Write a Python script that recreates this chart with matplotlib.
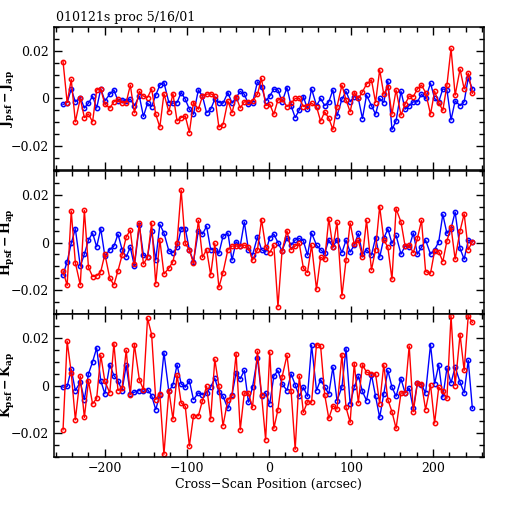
import matplotlib
matplotlib.use('Agg')
import matplotlib.pyplot as plt
from matplotlib.ticker import MultipleLocator, FixedFormatter, FixedLocator

# cross-scan positions (arcsec), shared by every series
scan_x = [-251, -246, -241, -236, -230, -225, -220, -215, -210, -205,
          -200, -194, -189, -184, -179, -174, -169, -164, -158, -153,
          -148, -143, -138, -133, -128, -122, -117, -112, -107, -102,
          -97, -92, -86, -81, -76, -71, -66, -61, -56, -50,
          -45, -40, -35, -30, -25, -20, -14, -9, -4, 1,
          6, 11, 16, 22, 27, 32, 37, 42, 47, 52,
          58, 63, 68, 73, 78, 83, 89, 94, 99, 104,
          109, 114, 119, 125, 130, 135, 140, 145, 150, 155,
          161, 166, 171, 176, 181, 186, 191, 197, 202, 207,
          212, 217, 222, 227, 233, 238, 243, 248]

j_red = [0.0155, -0.0017, 0.008, -0.0098, 0.0, -0.008, -0.0065, -0.0098, 0.0036, 0.004,
         -0.0024, -0.004, -0.0014, -0.0003, -0.0017, -0.0017, 0.0056, -0.006, 0.003, 0.001,
         0.0004, 0.004, -0.0066, -0.012, 0.002, -0.0056, 0.002, -0.0094, -0.008, -0.0073,
         -0.0143, -0.0017, -0.0045, 0.001, 0.0018, 0.002, 0.001, -0.012, -0.011, -0.001,
         -0.006, 0.0008, -0.004, -0.0014, -0.0014,
         -0.001, 0.0018, 0.0084, -0.003, -0.0024, -0.0066, -0.0006, -0.0003, -0.0034, -0.002,
         0.0, 0.0001, -0.0034, -0.003, -0.002, -0.0034, -0.0095, -0.0056, -0.0083, -0.013,
         -0.0034, 0.0056, -0.0006, -0.0056, 0.0025, 0.0, 0.0028, 0.006, 0.0078, -0.0017,
         0.012, 0.0018, 0.005, -0.0066, 0.0036, -0.007, -0.0024, 0.001, 0.0008, 0.004,
         0.0056, 0.0025, -0.0066, 0.003, -0.0017, -0.005, 0.0056, 0.021, 0.0014, 0.0123,
         0.004, 0.0106, 0.0022]
j_blue = [-0.0025, -0.0017, 0.004, -0.0014, 0.0004, -0.004, -0.002, 0.001, -0.004, 0.004,
          -0.001, 0.0018, 0.0036, -0.001, -0.0006, -0.001, -0.0003, -0.003, 0.001, -0.0075,
          -0.002, -0.0034, 0.0014, 0.0056, 0.0067, -0.0017, -0.002, -0.0017, 0.0025, -0.0003,
          -0.0045, -0.0066, 0.0036, 0.001, -0.006, -0.0045, -0.0003, -0.0017, -0.002, 0.0025,
          -0.002, 0.0004, 0.003, 0.0018, -0.0024,
          -0.002, 0.007, 0.005, -0.001, 0.001, 0.004, 0.0036, -0.0014, 0.0046, -0.003,
          -0.008, -0.0048, 0.0008, -0.0045, 0.004, -0.003, 0.0, -0.003, -0.0014, 0.0036,
          -0.0073, -0.0003, 0.003, -0.0014, 0.0008, 0.0, -0.0084, 0.0014, -0.003, -0.0066,
          0.0, -0.0017, 0.0074, -0.013, -0.0094, 0.003, -0.0045, -0.003, -0.0014, -0.0014,
          0.0018, 0.0, 0.0064, 0.0, -0.0014, 0.004, 0.0036, -0.009, -0.001, -0.003,
          -0.0014, 0.0087, 0.004]

h_red = [-0.012, -0.018, 0.0132, -0.0085, -0.0178, 0.0135, -0.0104, -0.0143, -0.014, -0.0122,
         -0.0049, -0.015, -0.0178, -0.0118, -0.0053, 0.0024, 0.0051, -0.009, 0.0082, -0.009,
         -0.0062, 0.0082, -0.0174, 0.0012, -0.0132, -0.0108, -0.008, 0.0, 0.022, -0.0004,
         -0.003, -0.0088, 0.0093, -0.0062, -0.003, -0.0136, -0.0004, -0.0188, -0.0126, -0.003,
         -0.0015, -0.0015, -0.0015, -0.0011, -0.002,
         -0.0074, -0.003, 0.0096, -0.0018, -0.0043, -0.0011, -0.027, -0.0035, 0.0049, -0.003,
         -0.0015, -0.0004, -0.0108, -0.0126, -0.0011, -0.0196, -0.0062, -0.007, 0.01, -0.002,
         0.0085, -0.0224, -0.0074, 0.0082, -0.0007, 0.001, -0.006, 0.0093, -0.0115, -0.003,
         0.0151, 0.0012, -0.002, -0.0154, 0.0142, 0.0086, -0.0015, -0.0011, -0.0043, 0.0017,
         0.0093, -0.0122, -0.0129, -0.0035, -0.0038, -0.008, 0.0007, 0.0065, -0.007, 0.0049,
         0.012, -0.003, 0.0003]
h_blue = [-0.0136, -0.008, -0.0004, 0.0058, -0.0099, -0.0049, 0.001, 0.004, -0.0018, 0.0058,
          -0.0057, -0.003, -0.0015, 0.0035, -0.003, -0.006, -0.002, -0.0099, 0.0072, -0.0053,
          -0.006, 0.0049, -0.0074, 0.0076, 0.004, -0.0035, -0.0043, -0.002, 0.0058, 0.0058,
          -0.003, -0.008, 0.0049, 0.0035, 0.0068, -0.003, -0.003, -0.0046, 0.0026, 0.004,
          -0.0074, 0.0003, -0.0015, 0.0086, -0.003,
          -0.0053, 0.0024, -0.003, -0.004, 0.002, 0.0035, 0.0, -0.0035, 0.002, -0.0011,
          0.001, 0.0017, 0.0007, -0.0053, 0.004, -0.0011, -0.003, -0.0046, 0.0012, -0.002,
          0.0012, -0.0043, 0.001, -0.004, -0.0011, 0.0038, -0.0049, -0.003, -0.0053, 0.002,
          -0.0062, 0.0017, 0.0058, -0.0004, 0.003, -0.0049, -0.0015, -0.002, 0.004, -0.0049,
          -0.002, 0.001, -0.0049, -0.003, 0.0003, 0.0118, 0.0038, 0.0058, 0.0128, -0.0025,
          -0.007, 0.001, 0.0003]

k_red = [-0.0186, 0.0186, 0.0054, -0.0144, 0.004, -0.0134, 0.002, -0.0077, -0.0054, 0.0127,
         0.0017, -0.0031, 0.0176, -0.0021, -0.0011, 0.0148, -0.0039, 0.0172, 0.0025, -0.0017,
         0.0282, 0.0214, -0.0059, -0.0035, -0.0289, -0.0021, -0.0141, 0.0045, -0.0073, -0.0087,
         -0.0254, -0.0127, -0.0127, -0.0063, -0.0003, -0.0141, 0.011, -0.0003, -0.0169, -0.0059,
         -0.0042, 0.0134, -0.0186, -0.0031, -0.0031,
         -0.0092, 0.0144, -0.0039, -0.0228, 0.0141, -0.018, -0.0101, 0.0035, 0.0127, -0.0021,
         -0.0268, 0.004, -0.0113, -0.0068, -0.007, 0.0172, 0.0166, -0.0039, -0.0138, -0.0085,
         -0.0099, 0.013, -0.0092, -0.0155, 0.0092, -0.0073, 0.0087, 0.0056, 0.0049, 0.0049,
         -0.0077, 0.0087, -0.0059, -0.011, -0.018, -0.0031, -0.0031, 0.0166, -0.011, 0.0011,
         0.0007, -0.0101, 0.0003, -0.0158, -0.0007, -0.0025, -0.0054, 0.0293, 0.0, 0.0214,
         0.0063, 0.0293, 0.0265]
k_blue = [-0.0007, -0.0004, 0.0068, -0.0021, 0.0014, -0.0059, 0.0049, 0.0099, 0.0158, 0.002,
          -0.0035, 0.0087, 0.0042, 0.002, -0.0021, 0.0085, -0.0035, -0.0028, -0.0021, -0.0025,
          -0.0017, -0.0042, -0.0101, -0.0039, 0.0138, -0.0025, 0.0003, 0.0087, 0.0007, -0.0007,
          0.002, -0.0059, -0.0031, -0.0039, -0.0031, -0.0007, 0.0031, -0.0028, -0.0045, -0.0096,
          -0.0039, 0.0054, 0.0028, 0.0063, -0.007,
          -0.0007, 0.0115, -0.0042, -0.0031, -0.0077, 0.004, 0.0063, 0.0007, -0.0021, 0.0049,
          0.0003, -0.0045, -0.0007, -0.0045, 0.0169, -0.0021, 0.0025, -0.0007, -0.0035, 0.0077,
          -0.0063, -0.0007, 0.0155, -0.0077, -0.0007, 0.004, -0.0025, -0.0063, 0.0045, -0.0045,
          -0.0134, -0.0035, 0.0063, -0.0007, -0.0045, 0.0028, -0.0031, -0.0011, -0.0096, 0.0011,
          0.0003, -0.0031, 0.0172, 0.0007, 0.0087, -0.0049, 0.0073, 0.0011, 0.0077, 0.0014,
          -0.0031, 0.0106, -0.0096]

panel_labels = [r'$\mathbf{J_{psf}-J_{ap}}$', r'$\mathbf{H_{psf}-H_{ap}}$', r'$\mathbf{K_{psf}-K_{ap}}$']
panel_data = [(j_red, j_blue), (h_red, h_blue), (k_red, k_blue)]
y_ticks = [-0.02, 0, 0.02]
y_tick_labels = ['\u22120.02', '0', '0.02']
x_ticks = [-200, -100, 0, 100, 200]
x_tick_labels = ['\u2212200', '\u2212100', '0', '100', '200']

plt.rcParams['font.family'] = ['DejaVu Serif']
plt.rcParams['mathtext.fontset'] = 'dejavuserif'

fig = plt.figure(figsize=(5.12, 5.12), dpi=100)

# panel boxes in figure fraction (top, middle, bottom)
left, width = 0.1055, 0.8395
bottoms = [0.668, 0.3867, 0.1074]
height = 0.2793

for i, (label, (red, blue)) in enumerate(zip(panel_labels, panel_data)):
    ax = fig.add_axes([left, bottoms[i], width, height])
    ax.plot(scan_x, blue, color='#0000ff', lw=1.0, marker='o', ms=3.1,
            mfc='none', mew=1.1)
    ax.plot(scan_x, red, color='#ff0000', lw=1.0, marker='o', ms=3.1,
            mfc='none', mew=1.1)
    ax.set_xlim(-262, 262)
    ax.set_ylim(-0.03, 0.03)

    ax.xaxis.set_major_locator(FixedLocator(x_ticks))
    ax.xaxis.set_minor_locator(MultipleLocator(20))
    ax.yaxis.set_major_locator(FixedLocator(y_ticks))
    ax.yaxis.set_minor_locator(MultipleLocator(0.005))
    ax.yaxis.set_major_formatter(FixedFormatter(y_tick_labels))
    ax.tick_params(which='both', direction='in', top=True, right=True,
                   width=1.0, labelsize=9, colors='black')
    ax.tick_params(which='major', length=6)
    ax.tick_params(which='minor', length=3.5)
    for s in ax.spines.values():
        s.set_linewidth(1.1)

    ax.set_ylabel(label, fontsize=9)
    ax.yaxis.set_label_coords(-0.085, 0.5)

    if i < 2:
        ax.tick_params(labelbottom=False)
    else:
        ax.xaxis.set_major_formatter(FixedFormatter(x_tick_labels))
        ax.set_xlabel('Cross\u2212Scan Position (arcsec)', fontsize=9, labelpad=2)
    if i == 0:
        ax.text(0.005, 1.02, '010121s proc 5/16/01', transform=ax.transAxes,
                fontsize=9, ha='left', va='bottom')

fig.savefig('out.png', dpi=100)
plt.close(fig)
